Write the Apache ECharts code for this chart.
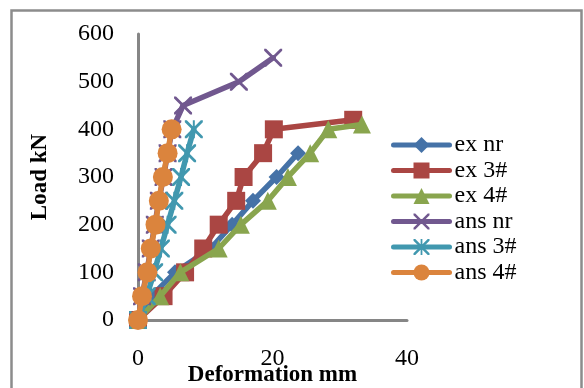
<!DOCTYPE html>
<html><head><meta charset="utf-8">
<script src="https://cdn.jsdelivr.net/npm/echarts@6/dist/echarts.min.js"></script>
<style>html,body{margin:0;padding:0;background:#fff}#c{width:584px;height:388px}</style>
</head><body><div id="c"></div>
<script>
const seriesNames = ['ex nr', 'ex 3#', 'ex 4#', 'ans nr', 'ans 3#', 'ans 4#'];
const exNrX  = [0, 2.0, 5.5, 10.8, 14.0, 17.1, 20.6, 23.8];
const exNrY  = [0, 50, 100, 150, 200, 250, 300, 350];
const ex3X   = [0, 3.8, 7.0, 9.7, 12.0, 14.6, 15.7, 18.6, 20.2, 32.0];
const ex3Y   = [0, 50, 100, 150, 200, 250, 300, 350, 400, 420];
const ex4X   = [0, 3.3, 6.3, 12.0, 15.3, 19.3, 22.3, 25.6, 28.3, 33.3];
const ex4Y   = [0, 50, 100, 150, 200, 250, 300, 350, 400, 410];
const ansNrX = [0, 0.6, 1.3, 1.9, 2.5, 3.1, 3.8, 4.4, 5.1, 6.7, 15.0, 20.1];
const ansNrY = [0, 50, 100, 150, 200, 250, 300, 350, 400, 450, 500, 550];
const ans3X  = [0, 1.3, 2.4, 3.4, 4.4, 5.4, 6.4, 7.3, 8.3];
const ans3Y  = [0, 50, 100, 150, 200, 250, 300, 350, 400];
const ans4X  = [0, 0.6, 1.4, 1.9, 2.6, 3.1, 3.7, 4.4, 5.0];
const ans4Y  = [0, 50, 100, 150, 200, 250, 300, 350, 400];
const xTicks = [0, 20, 40];
const yTicks = [0, 100, 200, 300, 400, 500, 600];

const zip = (xs, ys) => xs.map((v, i) => [v, ys[i]]);
const colors = ['#4572A7', '#AA4643', '#89A54E', '#71588F', '#4198AF', '#DB843D'];
const X_PATH = 'path://M0,0 L2.2,0 L10,7.8 L17.8,0 L20,0 L20,2.2 L12.2,10 L20,17.8 L20,20 L17.8,20 L10,12.2 L2.2,20 L0,20 L0,17.8 L7.8,10 L0,2.2 Z';
const AST_PATH = X_PATH + ' M8.9,0 L11.1,0 L11.1,20 L8.9,20 Z';
const symbols = ['diamond', 'rect', 'triangle', X_PATH, AST_PATH, 'circle'];
const sizes = [16, 18, 18, 18, 18, 20];
const datas = [zip(exNrX, exNrY), zip(ex3X, ex3Y), zip(ex4X, ex4Y), zip(ansNrX, ansNrY), zip(ans3X, ans3Y), zip(ans4X, ans4Y)];

const font = 'Liberation Serif';
const chart = echarts.init(document.getElementById('c'), null, {renderer: 'canvas'});
chart.setOption({
  animation: false,
  backgroundColor: '#fff',
  graphic: [{
    type: 'rect', left: 9, top: 8, shape: {width: 570, height: 400},
    style: {fill: 'none', stroke: '#8c8c8c', lineWidth: 2.5}, silent: true
  }],
  grid: {left: 138, right: 177, top: 34, bottom: 68, containLabel: false, outerBoundsMode: 'none'},
  legend: {
    left: 386, top: 128, orient: 'vertical',
    itemWidth: 56, itemHeight: 20, itemGap: 1.5,
    data: seriesNames,
    lineStyle: {width: 5},
    textStyle: {fontFamily: font, fontSize: 24, color: '#000', lineHeight: 20}
  },
  xAxis: {
    type: 'value', min: 0, max: 40, interval: 20,
    axisLine: {show: true, lineStyle: {color: '#868686', width: 3}},
    axisTick: {show: false}, splitLine: {show: false},
    axisLabel: {fontFamily: font, fontSize: 24, color: '#000', margin: 27,
      formatter: v => xTicks.includes(v) ? String(v) : ''},
    name: 'Deformation mm', nameLocation: 'middle', nameGap: 44, nameMoveOverlap: false,
    nameTextStyle: {fontFamily: font, fontSize: 23, fontWeight: 'bold', color: '#000'}
  },
  yAxis: {
    type: 'value', min: 0, max: 600, interval: 100,
    axisLine: {show: true, lineStyle: {color: '#868686', width: 3}},
    axisTick: {show: false}, splitLine: {show: false},
    axisLabel: {fontFamily: font, fontSize: 24, color: '#000', margin: 24,
      formatter: v => yTicks.includes(v) ? String(v) : ''},
    name: 'Load kN', nameLocation: 'middle', nameGap: 86, nameMoveOverlap: false,
    nameTextStyle: {fontFamily: font, fontSize: 23, fontWeight: 'bold', color: '#000'}
  },
  series: seriesNames.map((n, i) => ({
    name: n, type: 'line', data: datas[i],
    symbol: symbols[i], symbolSize: sizes[i],
    lineStyle: {color: colors[i], width: 5.5, join: 'round', cap: 'round'},
    itemStyle: {color: colors[i]},
    z: 2 + i
  }))
});
</script></body></html>
